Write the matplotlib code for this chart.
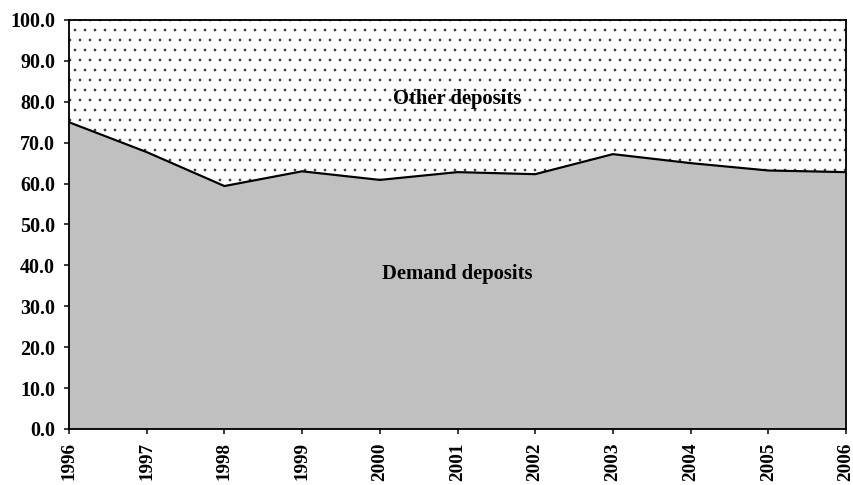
import numpy as np
import matplotlib.pyplot as plt

plt.rcParams['hatch.linewidth'] = 0.4
plt.rcParams['hatch.color'] = '#303030'

years = [1996, 1997, 1998, 1999, 2000, 2001, 2002, 2003, 2004, 2005, 2006]
demand = [75.0, 67.7, 59.4, 63.0, 60.9, 62.8, 62.3, 67.2, 65.0, 63.2, 62.8]
other = [100 - d for d in demand]

DPI = 120
fig = plt.figure(figsize=(853 / DPI, 485 / DPI), dpi=DPI)
ax = fig.add_axes([0.0809, 0.1155, 0.9109, 0.8433])

top = np.array(demand) + np.array(other)
ax.fill_between(years, 0, demand, facecolor='#C0C0C0', edgecolor='none', zorder=1)
ax.fill_between(years, demand, top, facecolor='white', edgecolor='#303030',
                hatch='..', linewidth=0, zorder=1)
ax.plot(years, demand, color='black', lw=1.3, zorder=2)

ax.set_xlim(1996, 2006)
ax.set_ylim(0, 100)
ax.set_yticks(np.arange(0, 101, 10))
ax.set_yticklabels([f"{v:.1f}" for v in np.arange(0, 101, 10)])
ax.set_xticks(years)
ax.set_xticklabels([str(y) for y in years], rotation=90)

font = dict(family='Liberation Serif', weight='bold', size=12.4)
for lab in ax.get_yticklabels():
    lab.set_fontfamily('Liberation Serif')
    lab.set_fontweight('bold')
    lab.set_fontsize(12)
for lab in ax.get_xticklabels():
    lab.set_fontfamily('Liberation Serif')
    lab.set_fontweight('bold')
    lab.set_fontsize(11.5)

ax.tick_params(axis='both', direction='out', length=3, width=0.9, color='black')
ax.tick_params(axis='y', pad=5.4)
ax.tick_params(axis='x', pad=5)
for s in ax.spines.values():
    s.set_linewidth(1.1)
    s.set_color('black')
    s.set_zorder(3)

ax.text(2001, 80.7, "Other deposits", ha='center', va='center', **font)
ax.text(2001, 37.9, "Demand deposits", ha='center', va='center', **font)

fig.savefig('out.png', dpi=DPI)
